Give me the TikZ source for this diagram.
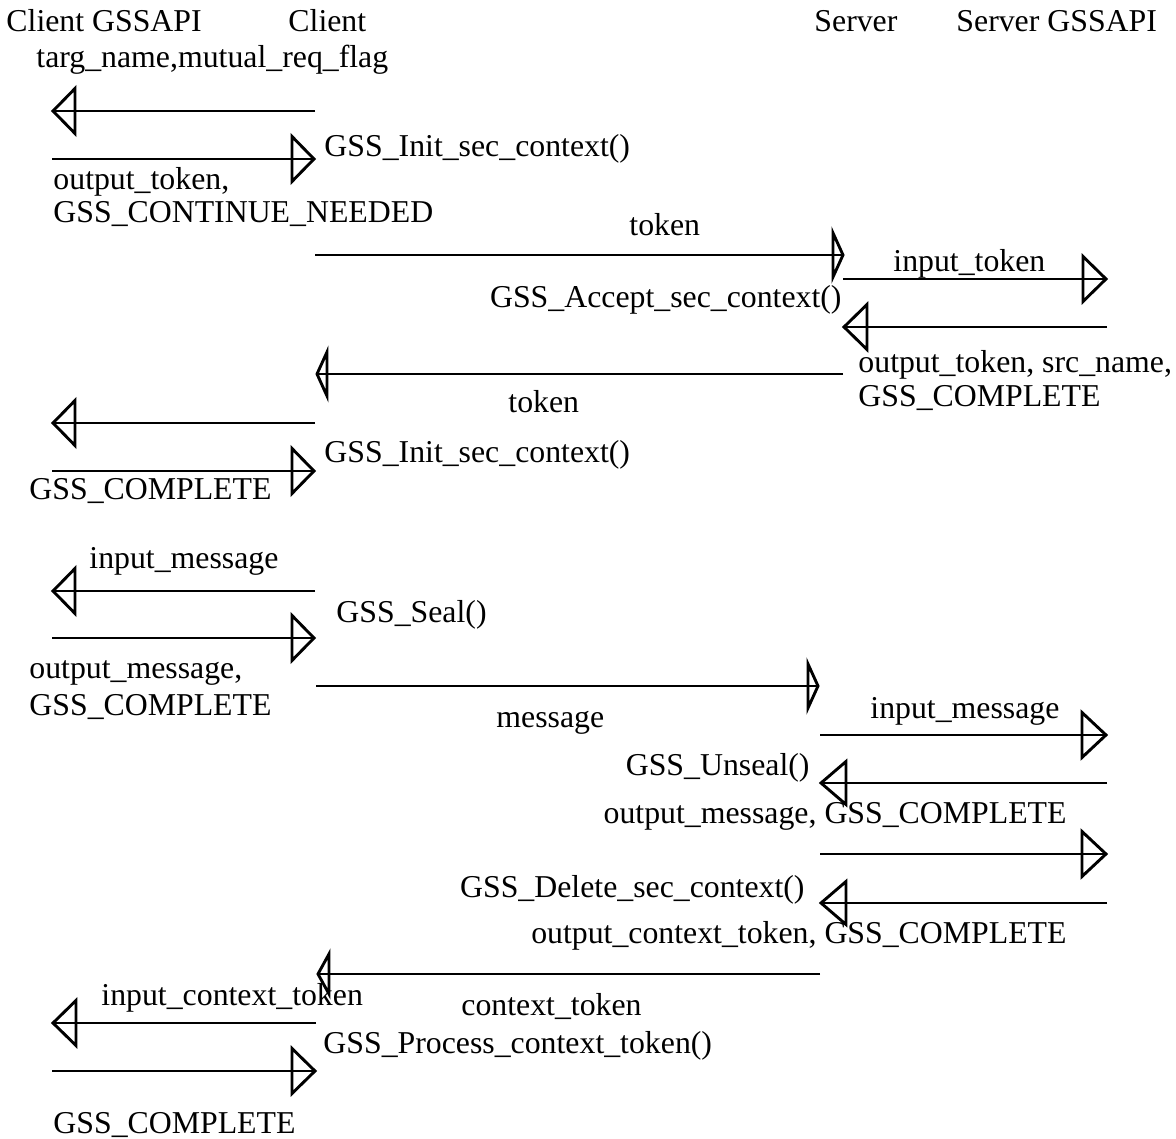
\documentclass[tikz,border=0pt]{standalone}
\usepackage{fontspec}
\setmainfont{Liberation Serif}
% #1 = signed head length (positive: head points right), #2 half height, #3 start, #4 end
\newcommand\sendmsg[4]{%
  \draw (#3) -- (#4);
  \draw (#4) -- ++({-(#1)},-#2) -- ++(0,{2*(#2)}) -- cycle;}
\begin{document}
\begin{tikzpicture}[x=1pt,y=-1pt,
  lbl/.style={inner sep=0pt, font=\fontsize{31.8}{36}\selectfont},
  lw/.style={lbl, anchor=base west},
  le/.style={lbl, anchor=base east},
  line width=2.9pt, line join=miter]
\useasboundingbox (0,0) rectangle (1176,1139);

% headers
\node[lw] (hcg) at (5,32) {Client GSSAPI};
\node[lw] (hc) at (287,32) {Client};
\node[lw] (hs) at (813,32) {Server};
\node[lw] (hsg) at (955,32) {Server GSSAPI};

% coordinates
\coordinate (a1s) at (315,111);  \coordinate (a1e) at (53,111);
\coordinate (a2s) at (52,159);   \coordinate (a2e) at (314,159);
\coordinate (a3s) at (315,255);  \coordinate (a3e) at (843,255);
\coordinate (a4s) at (843,279);  \coordinate (a4e) at (1106,279);
\coordinate (a5s) at (1107,327); \coordinate (a5e) at (844,327);
\coordinate (a6s) at (843,374);  \coordinate (a6e) at (317,374);
\coordinate (a7s) at (315,423);  \coordinate (a7e) at (53,423);
\coordinate (a8s) at (52,471);   \coordinate (a8e) at (314,471);
\coordinate (a9s) at (315,591);  \coordinate (a9e) at (53,591);
\coordinate (a10s) at (52,638);  \coordinate (a10e) at (314,638);
\coordinate (a11s) at (316,686); \coordinate (a11e) at (818,686);
\coordinate (a12s) at (820,735); \coordinate (a12e) at (1106,735);
\coordinate (a13s) at (1107,783);\coordinate (a13e) at (821,783);
\coordinate (a14s) at (820,854); \coordinate (a14e) at (1106,854);
\coordinate (a15s) at (1107,903);\coordinate (a15e) at (821,903);
\coordinate (a16s) at (820,974); \coordinate (a16e) at (318,974);
\coordinate (a17s) at (316,1023);\coordinate (a17e) at (53,1023);
\coordinate (a18s) at (52,1071); \coordinate (a18e) at (315,1071);

\sendmsg{-22}{22.5}{a1s}{a1e}
\sendmsg{22}{22.5}{a2s}{a2e}
\sendmsg{10}{22}{a3s}{a3e}
\sendmsg{23}{22.5}{a4s}{a4e}
\sendmsg{-23}{22.5}{a5s}{a5e}
\sendmsg{-10}{22}{a6s}{a6e}
\sendmsg{-22}{22.5}{a7s}{a7e}
\sendmsg{22}{22.5}{a8s}{a8e}
\sendmsg{-22}{22.5}{a9s}{a9e}
\sendmsg{22}{22.5}{a10s}{a10e}
\sendmsg{10}{22}{a11s}{a11e}
\sendmsg{24}{22.5}{a12s}{a12e}
\sendmsg{-25}{21.5}{a13s}{a13e}
\sendmsg{24}{22.5}{a14s}{a14e}
\sendmsg{-25}{21.5}{a15s}{a15e}
\sendmsg{-11}{20}{a16s}{a16e}
\sendmsg{-23}{22.5}{a17s}{a17e}
\sendmsg{23}{22.5}{a18s}{a18e}

% labels
\node[lw] (t1) at (35,68) {targ\_name,mutual\_req\_flag};
\node[lw] (t2) at (323,157) {GSS\_Init\_sec\_context()};
\node[lw] (t3) at (52,190) {output\_token,};
\node[lw] (t4) at (52,223) {GSS\_CONTINUE\_NEEDED};
\node[lw] (t5) at (628,236) {token};
\node[le] (t6) at (843,308) {GSS\_Accept\_sec\_context()};
\node[lw] (t7) at (507,413) {token};
\node[lw] (t8) at (892,272) {input\_token};
\node[lw] (t9) at (857,373) {output\_token, src\_name,};
\node[lw] (t10) at (857,407) {GSS\_COMPLETE};
\node[lw] (t11) at (323,463) {GSS\_Init\_sec\_context()};
\node[lw] (t12) at (28,500) {GSS\_COMPLETE};
\node[lw] (t13) at (88,568) {input\_message};
\node[lw] (t14) at (335,622) {GSS\_Seal()};
\node[lw] (t15) at (28,678) {output\_message,};
\node[lw] (t16) at (28,715) {GSS\_COMPLETE};
\node[lw] (t17) at (495,727) {message};
\node[lw] (t18) at (869,718) {input\_message};
\node[le] (t19) at (811,775) {GSS\_Unseal()};
\node[le] (t20) at (1068,823) {output\_message, GSS\_COMPLETE};
\node[le] (t21) at (806,897) {GSS\_Delete\_sec\_context()};
\node[le] (t22) at (1068,943) {output\_context\_token, GSS\_COMPLETE};
\node[lw] (t23) at (100,1005) {input\_context\_token};
\node[lw] (t24) at (460,1015) {context\_token};
\node[lw] (t25) at (322,1053) {GSS\_Process\_context\_token()};
\node[lw] (t26) at (52,1133) {GSS\_COMPLETE};
\end{tikzpicture}
\end{document}
